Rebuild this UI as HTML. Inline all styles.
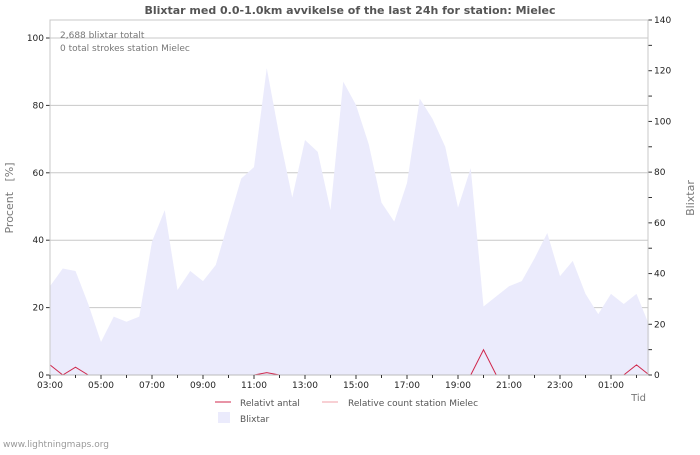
<!DOCTYPE html>
<html><head><meta charset="utf-8"><style>
body{margin:0;background:#fff;font-family:"Liberation Sans","DejaVu Sans",sans-serif}
svg text{font-family:"DejaVu Sans","Liberation Sans",sans-serif}
</style></head><body>
<svg id="c" width="700" height="450" viewBox="0 0 700 450" xmlns="http://www.w3.org/2000/svg">
<text x="350" y="14" text-anchor="middle" font-size="11" font-weight="bold" fill="#555">Blixtar med 0.0-1.0km avvikelse of the last 24h for station: Mielec</text>
<g id="grid"></g><g id="area"></g><g id="lines"></g><g id="axes"></g>
<text x="60" y="38" font-size="9" fill="#777">2,688 blixtar totalt</text>
<text x="60" y="51" font-size="9" fill="#777">0 total strokes station Mielec</text>
<text transform="translate(13,198) rotate(-90)" text-anchor="middle" font-size="11" fill="#777" style="white-space:pre">Procent   [%]</text>
<text transform="translate(694,198) rotate(-90)" text-anchor="middle" font-size="11" fill="#777">Blixtar</text>
<text x="646" y="401" text-anchor="end" font-size="10" fill="#777">Tid</text>
<g>
<line x1="215" y1="402" x2="231" y2="402" stroke="#d0284c" stroke-width="1"/>
<text x="240" y="406" font-size="9" fill="#555">Relativt antal</text>
<line x1="322" y1="402" x2="338" y2="402" stroke="#f0a0a8" stroke-width="1"/>
<text x="348" y="406" font-size="9" fill="#555">Relative count station Mielec</text>
<rect x="218" y="412" width="12" height="11" fill="#ebebfc"/>
<text x="240" y="422" font-size="9" fill="#555">Blixtar</text>
</g>
<text x="3" y="447" font-size="9" fill="#999">www.lightningmaps.org</text>
</svg>
<script>
const strikes=[35,42,41,28,13,23,21,23,52.6,65,33.5,41,37,43.4,60.5,77.5,82,121,94,70,92.7,88,65,115.7,106.5,91,68,60.5,75.7,109,101,90,66,81.6,27,31,35,37,46,56,39,45,32,24,32,28,32,19.5];
const relative=[3,0,2.3,0,0,0,0,0,0,0,0,0,0,0,0,0,0,0.7,0,0,0,0,0,0,0,0,0,0,0,0,0,0,0,0,7.5,0,0,0,0,0,0,0,0,0,0,0,3,0];
const leftTicks=[0,20,40,60,80,100];
const rightTicks=[0,20,40,60,80,100,120,140];
const timeLabels=["03:00","05:00","07:00","09:00","11:00","13:00","15:00","17:00","19:00","21:00","23:00","01:00"];
const X0=50,X1=648,Y0=375,Y1=20,HOUR=25.5;
const xs=i=>X0+i*HOUR/2;
const yl=v=>Y0-(v/100)*(Y0-38);
const yr=v=>Y0-(v/140)*(Y0-Y1);
const NS="http://www.w3.org/2000/svg";
function mk(p,t,a){const e=document.createElementNS(NS,t);for(const k in a)e.setAttribute(k,a[k]);p.appendChild(e);return e;}
const grid=document.getElementById('grid'),area=document.getElementById('area'),lines=document.getElementById('lines'),axes=document.getElementById('axes');
leftTicks.forEach(v=>{if(v>0){const g=mk(grid,'line',{x1:X0,x2:X1,y1:yl(v),y2:yl(v),stroke:'#c8c8c8'});

}
const t=mk(axes,'text',{x:44,y:yl(v)+3,'text-anchor':'end','font-size':'9',fill:'#222'});t.textContent=v;


mk(axes,'line',{x1:X0-4,x2:X0,y1:yl(v),y2:yl(v),stroke:'#333'});});
for(let v=0;v<=140;v+=10){mk(axes,'line',{x1:X1,x2:X1+4,y1:yr(v),y2:yr(v),stroke:'#333'});}
rightTicks.forEach(v=>{const t=mk(axes,'text',{x:654,y:yr(v)+3,'font-size':'9',fill:'#222'});t.textContent=v;

});
let d='M'+xs(0)+','+Y0;strikes.forEach((v,i)=>d+=' L'+xs(i)+','+yr(v));d+=' L'+xs(strikes.length-1)+','+Y0+'Z';
const a=mk(area,'path',{d:d,fill:'#ebebfc'});


const pl=mk(lines,'polyline',{points:relative.map((v,i)=>xs(i)+','+yl(v)).join(' '),fill:'none',stroke:'#d0284c','stroke-width':1});


mk(axes,'rect',{x:X0,y:Y1,width:X1-X0,height:Y0-Y1,fill:'none',stroke:'#c8c8c8'});
mk(axes,'line',{x1:X0,x2:X1,y1:Y0,y2:Y0,stroke:'#bbb'});
for(let h=0;h<=23;h++){mk(axes,'line',{x1:X0+h*HOUR,x2:X0+h*HOUR,y1:Y0,y2:Y0+(h%2?3:4),stroke:'#333'});}
timeLabels.forEach((s,i)=>{const t=mk(axes,'text',{x:X0+i*2*HOUR,y:388,'text-anchor':'middle','font-size':'9',fill:'#222'});t.textContent=s;

});
</script>
</body></html>
